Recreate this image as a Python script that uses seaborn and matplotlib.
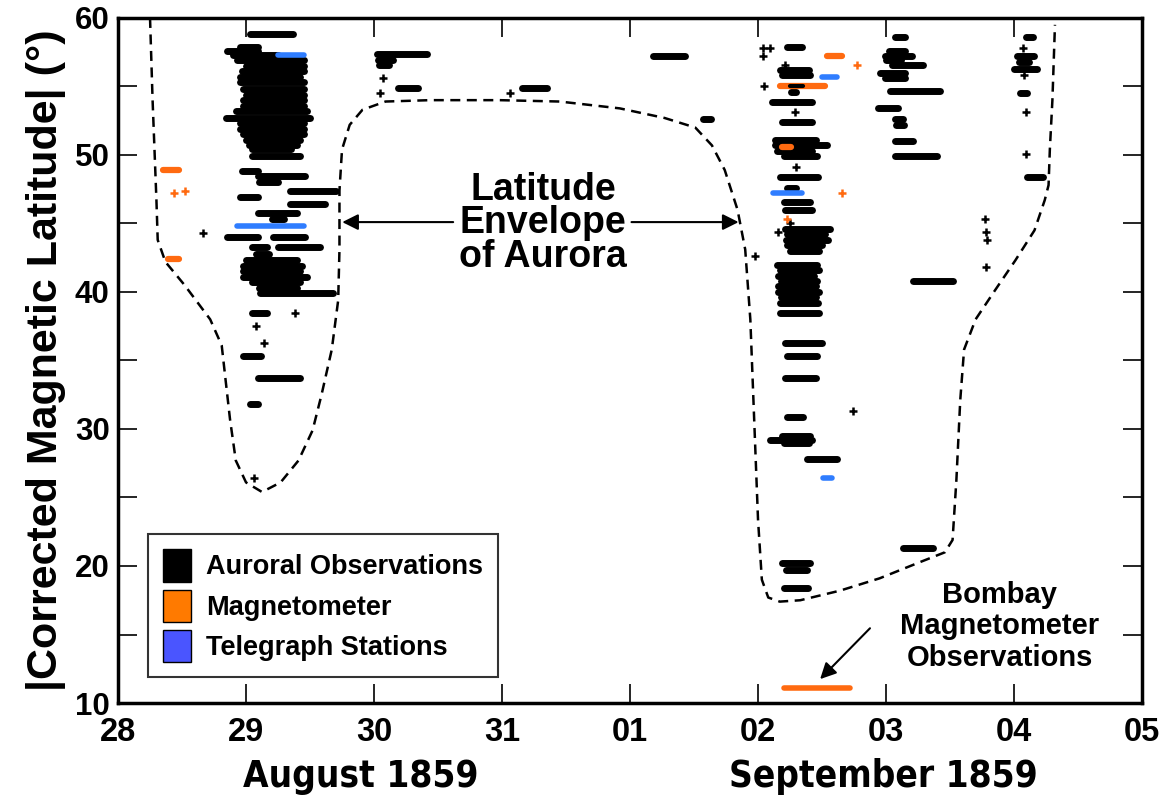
import numpy as np
import pandas as pd
import matplotlib
matplotlib.use("Agg")
import matplotlib.pyplot as plt
import seaborn as sns
from matplotlib.patches import Patch

# x = days since 28 Aug 1859 00:00, y = corrected magnetic latitude
day_ticks = [0, 1, 2, 3, 4, 5, 6, 7, 8]
day_labels = ["28", "29", "30", "31", "01", "02", "03", "04", "05"]

# dashed latitude envelope of aurora
env_day = [0.25, 0.27, 0.30, 0.31, 0.37, 0.52, 0.72, 0.81, 0.84, 0.875, 0.92, 1.0, 1.125,
           1.27, 1.41, 1.52, 1.59, 1.67, 1.72, 1.73, 1.73, 1.75, 1.81, 1.91, 2.09, 2.44,
           2.98, 3.45, 3.92, 4.27, 4.51, 4.64, 4.74, 4.84, 4.90, 4.94, 4.97, 5.0, 5.03,
           5.08, 5.17, 5.33, 5.64, 5.95, 6.27, 6.46, 6.52, 6.55, 6.58, 6.61, 6.70, 6.85,
           7.01, 7.16, 7.24, 7.27, 7.28, 7.30, 7.32]
env_lat = [60.0, 54.0, 46.7, 43.8, 42.2, 40.5, 38.0, 36.1, 33.6, 30.7, 27.7, 26.1, 25.4,
           26.1, 27.7, 29.9, 32.5, 35.8, 39.4, 43.1, 47.4, 50.4, 52.2, 53.3, 53.9, 54.0,
           54.0, 53.9, 53.4, 52.7, 52.0, 50.7, 48.9, 46.0, 43.1, 38.0, 30.7, 23.4, 19.0,
           17.7, 17.4, 17.5, 18.2, 19.1, 20.3, 21.0, 21.9, 26.3, 32.1, 35.8, 38.0, 40.1,
           42.3, 44.5, 46.7, 47.8, 50.4, 54.0, 59.5]

# auroral observations: (latitude, start day, end day)
aurora_bars = [
    (58.8, 1.03, 1.37), (57.9, 0.95, 1.09), (57.6, 0.85, 1.09), (57.3, 0.90, 1.25),
    (56.9, 0.93, 1.45), (56.5, 1.00, 1.45), (56.1, 0.97, 1.45), (55.7, 0.95, 1.42),
    (55.3, 0.95, 1.45), (54.8, 0.98, 1.45), (54.4, 1.00, 1.45), (54.0, 0.98, 1.45),
    (53.6, 0.98, 1.45), (53.2, 0.92, 1.48), (52.7, 0.84, 1.50), (52.3, 0.95, 1.45),
    (51.9, 0.95, 1.45), (51.5, 0.98, 1.45), (51.1, 1.00, 1.42), (50.7, 1.02, 1.40),
    (50.4, 1.05, 1.35), (49.9, 1.05, 1.42), (48.8, 0.97, 1.09), (48.5, 1.09, 1.46),
    (48.0, 1.10, 1.25), (47.4, 1.34, 1.70), (46.9, 0.95, 1.09), (46.4, 1.34, 1.62),
    (45.8, 1.09, 1.40), (45.3, 1.20, 1.30), (44.0, 0.85, 1.09), (44.0, 1.21, 1.46),
    (43.3, 1.05, 1.16), (43.3, 1.25, 1.58), (42.8, 1.08, 1.18), (42.3, 1.00, 1.40),
    (41.9, 0.98, 1.44), (41.5, 0.98, 1.42), (41.1, 0.98, 1.48), (40.7, 1.05, 1.42),
    (40.3, 1.10, 1.40), (39.9, 1.11, 1.68), (38.5, 1.05, 1.16), (35.3, 0.98, 1.12),
    (33.7, 1.09, 1.42), (31.8, 1.03, 1.09),
    (57.4, 2.02, 2.41), (56.9, 2.03, 2.15), (56.6, 2.04, 2.12), (54.9, 2.19, 2.34),
    (54.9, 3.16, 3.35), (57.2, 4.18, 4.43), (52.6, 4.57, 4.63),
    (57.9, 5.23, 5.34), (56.2, 5.17, 5.40), (55.8, 5.19, 5.41), (54.6, 5.26, 5.30),
    (53.9, 5.11, 5.42), (52.4, 5.19, 5.42), (51.1, 5.13, 5.45), (50.7, 5.13, 5.54),
    (50.3, 5.15, 5.42), (49.9, 5.20, 5.46), (48.4, 5.17, 5.47), (47.6, 5.23, 5.30),
    (46.6, 5.20, 5.41), (46.0, 5.21, 5.42), (44.6, 5.21, 5.56), (44.2, 5.23, 5.52),
    (43.8, 5.22, 5.55), (43.4, 5.23, 5.50), (43.0, 5.25, 5.48), (42.0, 5.15, 5.46),
    (41.6, 5.17, 5.48), (41.2, 5.16, 5.44), (40.8, 5.18, 5.46), (40.4, 5.16, 5.45),
    (40.0, 5.16, 5.48), (39.6, 5.18, 5.45), (39.2, 5.17, 5.47), (38.5, 5.17, 5.48),
    (36.3, 5.21, 5.50), (35.3, 5.23, 5.46), (33.7, 5.21, 5.45), (30.9, 5.23, 5.35),
    (29.5, 5.19, 5.41), (29.2, 5.09, 5.42), (29.0, 5.20, 5.40), (27.8, 5.38, 5.62),
    (20.2, 5.19, 5.41), (19.7, 5.22, 5.38), (18.4, 5.20, 5.39),
    (58.6, 6.07, 6.15), (57.6, 6.02, 6.15), (57.2, 5.99, 6.20), (56.9, 6.00, 6.12),
    (56.6, 6.05, 6.29), (56.0, 5.95, 6.15), (55.6, 5.99, 6.15), (54.7, 6.03, 6.42),
    (53.4, 5.94, 6.09), (52.6, 6.07, 6.13), (52.2, 6.08, 6.14), (51.0, 6.07, 6.21),
    (49.9, 6.07, 6.40), (40.8, 6.21, 6.52), (21.3, 6.13, 6.37),
    (58.6, 7.09, 7.15), (57.2, 7.02, 7.16), (56.8, 7.04, 7.12), (56.3, 7.00, 7.18),
    (54.5, 7.05, 7.10), (48.4, 7.10, 7.23),
]
aurora_pts_day = [0.66, 1.38, 1.08, 1.14, 1.06, 2.07, 2.05, 3.06, 5.04, 5.09, 5.04, 5.21,
                  5.05, 5.29, 5.30, 5.25, 5.16, 4.98, 5.74, 7.07, 7.08, 7.09, 7.09, 6.77,
                  6.78, 6.79, 6.78]
aurora_pts_lat = [44.3, 38.5, 37.5, 36.3, 26.4, 55.6, 54.5, 54.5, 57.8, 57.8, 57.2, 56.6,
                  55.0, 53.1, 49.1, 45.0, 44.4, 42.6, 31.3, 57.8, 55.8, 53.1, 50.1, 45.3,
                  44.4, 43.8, 41.8]

# magnetometer (orange) and telegraph stations (blue)
mag_bars = [(48.9, 0.35, 0.48), (42.4, 0.39, 0.48), (57.2, 5.54, 5.66),
            (55.0, 5.17, 5.52), (50.6, 5.19, 5.26)]
mag_pts_day = [0.44, 0.52, 5.77, 5.66, 5.23]
mag_pts_lat = [47.2, 47.4, 56.6, 47.2, 45.3]
bombay_bar = [(11.1, 5.20, 5.72)]

tele_bars = [(57.3, 1.25, 1.45), (44.8, 0.93, 1.45), (55.7, 5.50, 5.62),
             (47.2, 5.12, 5.34), (26.4, 5.51, 5.58)]

black = "#000000"
orange = "#ff6a10"
blue = "#2f7dff"

sns.set_theme(style="ticks")
plt.rcParams["font.family"] = ["Liberation Sans", "DejaVu Sans"]
for key in ["text.color", "axes.labelcolor", "xtick.color", "ytick.color", "axes.edgecolor"]:
    plt.rcParams[key] = "black"

fig = plt.figure(figsize=(11.64, 8.05), dpi=100)
ax = fig.add_axes([0.1014, 0.1267, 0.8797, 0.851])


def draw_bars(bars, color, lw):
    df = pd.DataFrame(bars, columns=["lat", "t0", "t1"])
    ax.hlines(df["lat"], df["t0"], df["t1"], colors=color, linewidth=lw,
              capstyle="round", zorder=3)


env = pd.DataFrame({"day": env_day, "lat": env_lat})
sns.lineplot(data=env, x="day", y="lat", sort=False, estimator=None, ax=ax,
             color="black", linewidth=1.8, linestyle=(0, (4, 2.6)), zorder=2)

draw_bars(aurora_bars, black, 5)
draw_bars(mag_bars, orange, 4.5)
draw_bars(bombay_bar, orange, 4)
draw_bars(tele_bars, blue, 4)
# a few black segments sit on top of the orange ones
draw_bars([(55.0, 5.25, 5.35)], black, 3)

ax.plot(aurora_pts_day, aurora_pts_lat, linestyle="none", marker="+", markersize=6,
        markeredgewidth=1.8, color=black, zorder=4)
ax.plot(mag_pts_day, mag_pts_lat, linestyle="none", marker="+", markersize=6,
        markeredgewidth=1.8, color=orange, zorder=4)

ax.set_xlim(0, 8)
ax.set_ylim(10, 60)
ax.set_xticks(day_ticks)
ax.set_xticklabels(day_labels)
ax.set_yticks([10, 20, 30, 40, 50, 60])
ax.set_yticks([15, 25, 35, 45, 55], minor=True)
ax.tick_params(axis="both", which="both", direction="in", top=True, right=True,
               width=1.2, length=14, colors="black")
ax.tick_params(axis="y", which="major", labelsize=22.5, pad=6)
ax.tick_params(axis="x", which="major", labelsize=23.5, pad=10)
cond = dict(family=["DejaVu Sans"], fontstretch="condensed")
for lab in ax.get_yticklabels():
    lab.set_fontweight("bold")
for lab in ax.get_xticklabels():
    lab.set_fontweight("bold")
for s in ax.spines.values():
    s.set_linewidth(2.5)
    s.set_color("black")

ax.set_xlabel("")
ax.set_ylabel("|Corrected Magnetic Latitude| (°)", fontsize=31, fontweight="bold",
              labelpad=6)

tr = ax.get_xaxis_transform()
ax.text(1.9, -0.107, "August 1859", transform=tr, ha="center", va="center",
        fontsize=26.5, fontweight="bold", **cond)
ax.text(5.98, -0.107, "September 1859", transform=tr, ha="center", va="center",
        fontsize=26.5, fontweight="bold", **cond)

ax.text(3.32, 45.0, "Latitude\nEnvelope\nof Aurora", ha="center", va="center",
        fontsize=27, fontweight="bold", linespacing=0.92)
arrow = dict(arrowstyle="-|>", color="black", lw=1.5, mutation_scale=24)
ax.annotate("", xy=(1.73, 45.1), xytext=(2.64, 45.1), arrowprops=arrow)
ax.annotate("", xy=(4.87, 45.1), xytext=(3.99, 45.1), arrowprops=arrow)

ax.text(6.89, 15.6, "Bombay\nMagnetometer\nObservations", ha="center", va="center",
        fontsize=21, fontweight="bold", linespacing=1.15)
ax.annotate("", xy=(5.47, 11.6), xytext=(5.89, 15.6), arrowprops=arrow)

handles = [Patch(facecolor=black, edgecolor="black", label="Auroral Observations"),
           Patch(facecolor="#ff7a00", edgecolor="black", label="Magnetometer"),
           Patch(facecolor="#4a55ff", edgecolor="black", label="Telegraph Stations")]
leg = ax.legend(handles=handles, loc="lower left", bbox_to_anchor=(0.029, 0.038),
                fontsize=19.5, frameon=True, fancybox=False, handlelength=1.05,
                handleheight=1.45, handletextpad=0.55, borderpad=0.55, labelspacing=0.3,
                borderaxespad=0)
leg.get_frame().set_edgecolor("black")
leg.get_frame().set_linewidth(1.5)
for t in leg.get_texts():
    t.set_fontweight("semibold")

fig.savefig("out.png", dpi=100, facecolor="white")
